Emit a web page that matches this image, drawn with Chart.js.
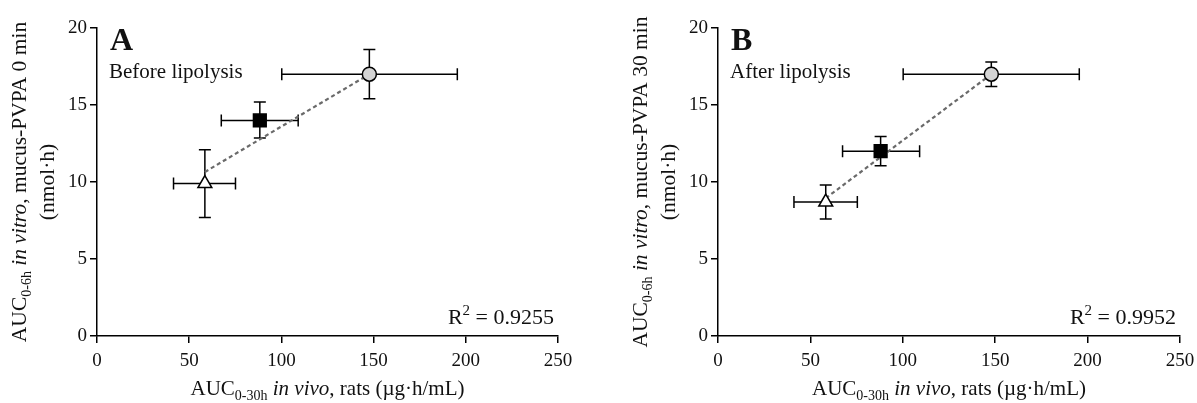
<!DOCTYPE html>
<html>
<head>
<meta charset="utf-8">
<script src="https://cdn.jsdelivr.net/npm/chart.js@4.4.1/dist/chart.umd.min.js"></script>
<style>
  body { margin: 0; background: #fff; width: 1197px; height: 403px; overflow: hidden; position: relative; }
  .box { position: absolute; top: 0; height: 403px; }
</style>
</head>
<body>
<div class="box" style="left:0;width:600px"><canvas id="chartA" width="600" height="403"></canvas></div>
<div class="box" style="left:600px;width:620px"><canvas id="chartB" width="620" height="403"></canvas></div>
<script>
// valores (triangulo, cuadrado, circulo)
const xTickValues = [0, 50, 100, 150, 200, 250];
const yTickValues = [0, 5, 10, 15, 20];
const markerStyles = ['triangle', 'rect', 'circle'];
const markerColors = ['#ffffff', '#000000', '#d4d4d4'];

// panel A - antes de la lipolisis
const aX = [58.5, 88.3, 147.7];
const aY = [9.9, 14.0, 17.0];
const aXLow = [41.5, 67.4, 100.2];
const aXHigh = [75.1, 109.1, 195.4];
const aYLow = [7.7, 12.85, 15.4];
const aYHigh = [12.1, 15.2, 18.6];
const aFitX = [58.5, 147.7];
const aFitY = [10.65, 17.0];

// panel B - despues de la lipolisis
const bX = [58.3, 88.0, 147.9];
const bY = [8.7, 12.0, 17.0];
const bXLow = [41.1, 67.4, 100.2];
const bXHigh = [75.4, 109.1, 195.5];
const bYLow = [7.6, 11.05, 16.2];
const bYHigh = [9.8, 12.95, 17.8];
const bFitX = [58.3, 147.9];
const bFitY = [8.95, 17.0];

const serif = "'Liberation Serif', 'Times New Roman', serif";
Chart.defaults.font.family = serif;
Chart.defaults.color = '#111';

// dibuja texto con partes normales, cursiva, subindice y superindice
function textoRico(ctx, partes, x, y, align, tam) {
  tam = tam || 21;
  const fuentes = {
    n: [tam + 'px ' + serif, 0],
    i: ['italic ' + tam + 'px ' + serif, 0],
    sub: ['14px ' + serif, 5],
    sup: ['15px ' + serif, -9]
  };
  let total = 0;
  partes.forEach(p => { ctx.font = fuentes[p[1]][0]; total += ctx.measureText(p[0]).width; });
  let cx = align === 'center' ? x - total / 2 : (align === 'right' ? x - total : x);
  ctx.textAlign = 'left';
  ctx.textBaseline = 'alphabetic';
  partes.forEach(p => {
    ctx.font = fuentes[p[1]][0];
    ctx.fillText(p[0], cx, y + fuentes[p[1]][1]);
    cx += ctx.measureText(p[0]).width;
  });
}

const barrasError = {
  id: 'barrasError',
  beforeDatasetsDraw(chart) {
    const ctx = chart.ctx;
    const sx = chart.scales.x, sy = chart.scales.y;
    const ds = chart.data.datasets[0];
    const cap = 6;
    ctx.save();
    ctx.strokeStyle = '#000';
    ctx.lineWidth = 1.5;
    ds.data.forEach((p, i) => {
      const px = sx.getPixelForValue(p.x), py = sy.getPixelForValue(p.y);
      const x1 = sx.getPixelForValue(ds.xLow[i]), x2 = sx.getPixelForValue(ds.xHigh[i]);
      const y1 = sy.getPixelForValue(ds.yLow[i]), y2 = sy.getPixelForValue(ds.yHigh[i]);
      ctx.beginPath();
      ctx.moveTo(x1, py); ctx.lineTo(x2, py);
      ctx.moveTo(x1, py - cap); ctx.lineTo(x1, py + cap);
      ctx.moveTo(x2, py - cap); ctx.lineTo(x2, py + cap);
      ctx.moveTo(px, y1); ctx.lineTo(px, y2);
      ctx.moveTo(px - cap, y1); ctx.lineTo(px + cap, y1);
      ctx.moveTo(px - cap, y2); ctx.lineTo(px + cap, y2);
      ctx.stroke();
    });
    ctx.restore();
  }
};

const textos = {
  id: 'textos',
  afterDraw(chart, args, opts) {
    const ctx = chart.ctx;
    const area = chart.chartArea;
    ctx.save();
    ctx.fillStyle = '#111';
    // letra del panel
    ctx.font = 'bold 32px ' + serif;
    ctx.textAlign = 'left';
    ctx.textBaseline = 'alphabetic';
    ctx.fillText(opts.letra, area.left + 13, 50);
    ctx.font = '21px ' + serif;
    ctx.fillText(opts.rotulo, area.left + 12, 78);
    textoRico(ctx, [['R', 'n'], ['2', 'sup'], [' = ' + opts.r2, 'n']], area.right - 4, 324, 'right', 22);
    // titulo eje x
    textoRico(ctx, [['AUC', 'n'], ['0-30h', 'sub'], [' in vivo', 'i'], [', rats (\u00b5g\u00b7h/mL)', 'n']],
      (area.left + area.right) / 2, 395, 'center');
    // titulo eje y (girado)
    const cy = (area.top + area.bottom) / 2;
    ctx.translate(area.left - 71, cy);
    ctx.rotate(-Math.PI / 2);
    textoRico(ctx, [['AUC', 'n'], ['0-6h', 'sub'], [' in vitro', 'i'], [', mucus-PVPA ' + opts.tiempo, 'n']], 0, 0, 'center', 21.5);
    textoRico(ctx, [['(nmol\u00b7h)', 'n']], 0, 28, 'center', 21.5);
    ctx.restore();
  }
};

function crearGrafico(id, xs, ys, xl, xh, yl, yh, fx, fy, izquierda, derecha, opcionesTexto) {
  const ctx = document.getElementById(id).getContext('2d');
  return new Chart(ctx, {
    type: 'scatter',
    data: {
      datasets: [{
        label: 'puntos',
        data: xs.map((x, i) => ({ x: x, y: ys[i] })),
        xLow: xl, xHigh: xh, yLow: yl, yHigh: yh,
        pointStyle: markerStyles,
        pointBackgroundColor: markerColors,
        pointBorderColor: '#000',
        pointBorderWidth: 1.5,
        pointRadius: [8, 9, 7],
        order: 0
      }, {
        label: 'ajuste',
        type: 'line',
        data: fx.map((x, i) => ({ x: x, y: fy[i] })),
        borderColor: '#6a6a6a',
        borderWidth: 2.2,
        borderDash: [4, 3],
        pointRadius: 0,
        fill: false,
        order: 1
      }]
    },
    options: {
      responsive: false,
      animation: false,
      events: [],
      layout: { padding: { top: 28, right: derecha, bottom: 0, left: 0 } },
      plugins: { legend: { display: false }, tooltip: { enabled: false }, textos: opcionesTexto },
      scales: {
        x: {
          type: 'linear', min: 0, max: 250,
          afterBuildTicks: s => { s.ticks = xTickValues.map(v => ({ value: v })); },
          afterFit: s => { s.height = 67; },
          grid: { drawOnChartArea: false, drawTicks: true, tickLength: 7, color: '#000', lineWidth: 1.5 },
          border: { color: '#000', width: 1.5 },
          ticks: { font: { size: 19 }, color: '#111', padding: 7, maxRotation: 0 }
        },
        y: {
          type: 'linear', min: 0, max: 20,
          afterBuildTicks: s => { s.ticks = yTickValues.map(v => ({ value: v })); },
          afterFit: s => { s.width = izquierda; },
          grid: { drawOnChartArea: false, drawTicks: true, tickLength: 7, color: '#000', lineWidth: 1.5 },
          border: { color: '#000', width: 1.5 },
          ticks: { font: { size: 19 }, color: '#111', padding: 3 }
        }
      }
    },
    plugins: [barrasError, textos]
  });
}

crearGrafico('chartA', aX, aY, aXLow, aXHigh, aYLow, aYHigh, aFitX, aFitY, 97, 42,
  { letra: 'A', rotulo: 'Before lipolysis', r2: '0.9255', tiempo: '0 min' });
crearGrafico('chartB', bX, bY, bXLow, bXHigh, bYLow, bYHigh, bFitX, bFitY, 118, 40,
  { letra: 'B', rotulo: 'After lipolysis', r2: '0.9952', tiempo: '30 min' });
</script>
</body>
</html>
